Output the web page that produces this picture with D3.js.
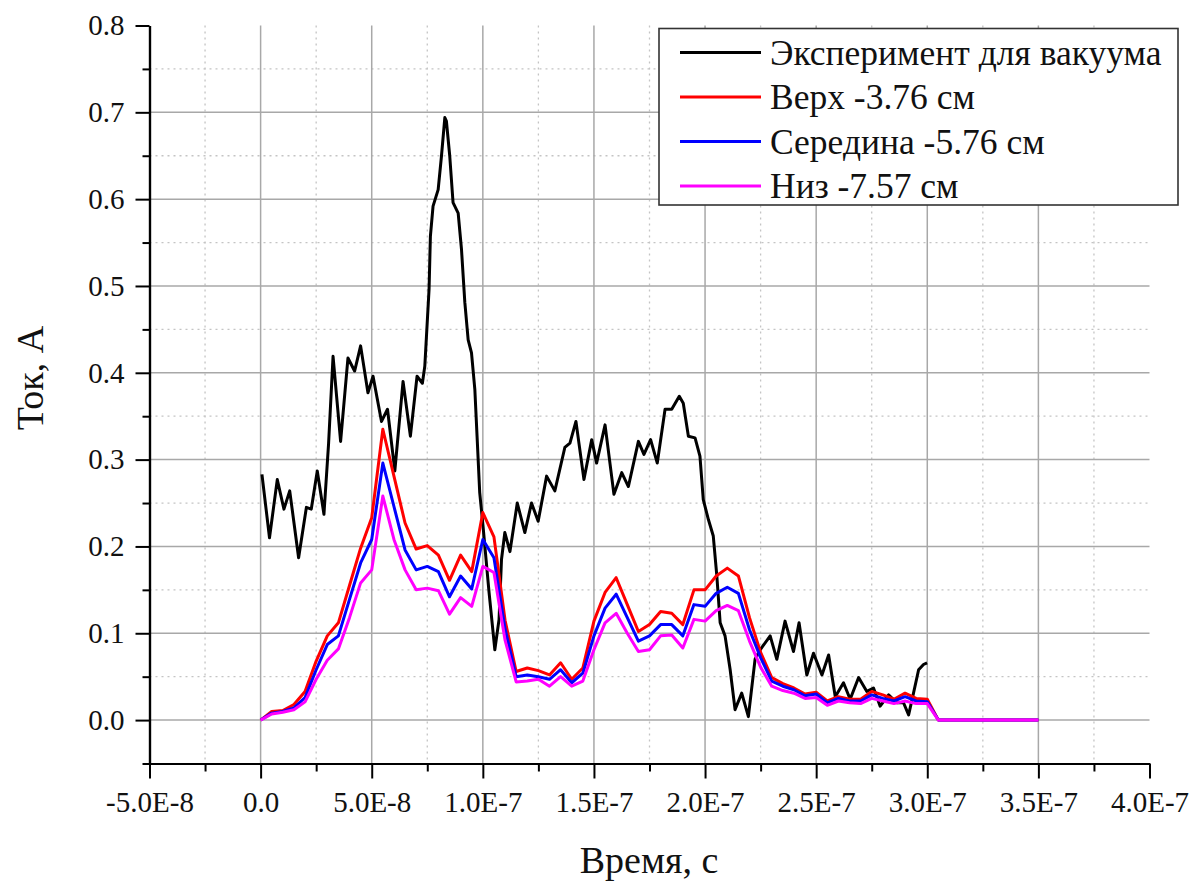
<!DOCTYPE html>
<html>
<head>
<meta charset="utf-8">
<script src="https://cdn.jsdelivr.net/npm/d3@7"></script>
<style>
  body { margin: 0; background: #fff; }
  svg { display: block; font-family: "Liberation Serif", "Times New Roman", serif; }
</style>
</head>
<body>
<svg width="1196" height="881"></svg>
<script>
// Time in ns
const xMajor = [-50, 0, 50, 100, 150, 200, 250, 300, 350, 400];
const xLabels = ["-5.0E-8", "0.0", "5.0E-8", "1.0E-7", "1.5E-7", "2.0E-7", "2.5E-7", "3.0E-7", "3.5E-7", "4.0E-7"];
const xMinor = [-25, 25, 75, 125, 175, 225, 275, 325, 375];
const yMajor = [0, 0.1, 0.2, 0.3, 0.4, 0.5, 0.6, 0.7, 0.8];
const yLabels = ["0.0", "0.1", "0.2", "0.3", "0.4", "0.5", "0.6", "0.7", "0.8"];
const yMinor = [-0.05, 0.05, 0.15, 0.25, 0.35, 0.45, 0.55, 0.65, 0.75];

const seriesNames = ["Эксперимент для вакуума", "Верх -3.76 см", "Середина -5.76 см", "Низ -7.57 см"];
const seriesColors = ["#000000", "#ff0000", "#0000ff", "#ff00ff"];

// experiment (black)
const blackT = [0.6, 4.0, 7.5, 10.5, 13.1, 17.1, 20.6, 22.8, 25.5, 28.5, 30.6, 32.6, 36.0, 39.3, 42.3, 45.0, 48.3, 50.6,
  54.4, 57.1, 60.4, 64.1, 67.4, 70.4, 72.8, 73.9, 75.8, 76.4, 77.6, 79.9, 81.4, 82.9, 83.6, 85.1, 86.6, 88.9, 90.4,
  91.9, 93.4, 94.9, 96.4, 97.4, 98.6, 100.1, 102.8, 105.4, 107.3, 108.4, 109.9, 112.2, 115.5, 118.9, 121.9, 124.9,
  128.7, 132.4, 136.9, 139.2, 141.9, 145.5, 149.0, 151.2, 155.0, 159.0, 162.5, 165.5, 170.0, 172.5, 175.5, 178.5,
  182.0, 185.0, 188.4, 190.2, 192.5, 195.5, 197.7, 199.2, 201.5, 203.7, 205.3, 206.8, 209.0, 211.3, 213.5, 216.5,
  219.5, 222.5, 224.8, 229.3, 232.3, 236.0, 239.8, 242.3, 245.8, 248.8, 252.6, 255.6, 258.6, 262.3, 265.3, 269.1,
  272.8, 275.8, 278.8, 282.6, 286.3, 289.3, 291.6, 293.8, 296.1, 298.3, 299.9];
const blackI = [0.283, 0.210, 0.277, 0.243, 0.264, 0.187, 0.245, 0.243, 0.287, 0.237, 0.319, 0.419, 0.321, 0.417, 0.402, 0.431, 0.377, 0.396,
  0.344, 0.358, 0.287, 0.390, 0.327, 0.396, 0.388, 0.408, 0.496, 0.557, 0.592, 0.611, 0.650, 0.694, 0.690, 0.650, 0.596, 0.584, 0.542,
  0.481, 0.438, 0.423, 0.381, 0.327, 0.262, 0.223, 0.147, 0.081, 0.116, 0.185, 0.216, 0.194, 0.250, 0.216, 0.250, 0.229,
  0.281, 0.264, 0.314, 0.319, 0.344, 0.277, 0.323, 0.296, 0.340, 0.260, 0.285, 0.269, 0.321, 0.306, 0.323, 0.296,
  0.358, 0.358, 0.373, 0.365, 0.327, 0.325, 0.304, 0.254, 0.231, 0.212, 0.166, 0.112, 0.097, 0.058, 0.012, 0.031,
  0.004, 0.070, 0.081, 0.097, 0.070, 0.114, 0.079, 0.112, 0.052, 0.077, 0.052, 0.075, 0.027, 0.043, 0.024, 0.049,
  0.033, 0.037, 0.016, 0.029, 0.020, 0.020, 0.006, 0.031, 0.058, 0.064, 0.066];

// simulations (sampled every 5 ns)
const simT = [0, 5, 10, 15, 20, 25, 30, 35, 40, 45, 50, 55, 60, 65, 70, 75, 80, 85, 90, 95, 100, 105, 110, 115, 120, 125,
  130, 135, 140, 145, 150, 155, 160, 165, 170, 175, 180, 185, 190, 195, 200, 205, 210, 215, 220, 225, 230, 235, 240,
  245, 250, 255, 260, 265, 270, 275, 280, 285, 290, 295, 300, 305, 350];
const redI = [0, 0.010, 0.011, 0.018, 0.033, 0.068, 0.097, 0.112, 0.155, 0.198, 0.233, 0.335, 0.281, 0.227, 0.197, 0.201, 0.190, 0.161, 0.190, 0.171, 0.239, 0.211, 0.115, 0.056, 0.060, 0.057,
  0.052, 0.066, 0.047, 0.060, 0.114, 0.147, 0.164, 0.133, 0.102, 0.110, 0.125, 0.123, 0.110, 0.150, 0.150, 0.166, 0.175, 0.166, 0.118, 0.078, 0.049, 0.042, 0.037,
  0.030, 0.032, 0.022, 0.027, 0.024, 0.024, 0.033, 0.029, 0.024, 0.031, 0.025, 0.024, 0, 0];
const blueI = [0, 0.008, 0.010, 0.014, 0.026, 0.058, 0.087, 0.097, 0.139, 0.181, 0.208, 0.296, 0.246, 0.196, 0.173, 0.177, 0.171, 0.142, 0.166, 0.151, 0.208, 0.187, 0.105, 0.050, 0.052, 0.050,
  0.047, 0.058, 0.043, 0.054, 0.097, 0.129, 0.145, 0.118, 0.091, 0.097, 0.110, 0.110, 0.097, 0.133, 0.131, 0.146, 0.153, 0.146, 0.104, 0.072, 0.045, 0.039, 0.035,
  0.028, 0.030, 0.020, 0.025, 0.022, 0.022, 0.029, 0.025, 0.022, 0.027, 0.022, 0.021, 0, 0];
const magentaI = [0, 0.007, 0.009, 0.012, 0.021, 0.047, 0.069, 0.082, 0.118, 0.158, 0.173, 0.258, 0.208, 0.173, 0.150, 0.152, 0.149, 0.122, 0.141, 0.131, 0.177, 0.170, 0.092, 0.044, 0.045, 0.047,
  0.039, 0.050, 0.039, 0.045, 0.081, 0.112, 0.123, 0.100, 0.079, 0.081, 0.097, 0.098, 0.083, 0.116, 0.114, 0.126, 0.132, 0.126, 0.091, 0.061, 0.039, 0.034, 0.031,
  0.025, 0.026, 0.017, 0.022, 0.020, 0.019, 0.025, 0.022, 0.019, 0.022, 0.019, 0.019, 0, 0];

const svg = d3.select("svg");
const plotLeft = 149.5, plotRight = 1149.5, plotTop = 25.5, plotBottom = 763.5;

const x = d3.scaleLinear().domain([-50, 400]).range([plotLeft, plotRight]);
const y = d3.scaleLinear().domain([-0.05, 0.8]).range([plotBottom, plotTop]);

// grid
const grid = svg.append("g");
grid.selectAll(".vmin").data(xMinor).enter().append("line")
  .attr("x1", d => x(d)).attr("x2", d => x(d)).attr("y1", plotTop).attr("y2", plotBottom)
  .attr("stroke", "#c4c4c4").attr("stroke-width", 1.3).attr("stroke-dasharray", "2,4");
grid.selectAll(".hmin").data(yMinor.filter(d => d > 0)).enter().append("line")
  .attr("x1", plotLeft).attr("x2", plotRight).attr("y1", d => y(d)).attr("y2", d => y(d))
  .attr("stroke", "#c4c4c4").attr("stroke-width", 1.3).attr("stroke-dasharray", "2,4");
grid.selectAll(".vmaj").data(xMajor.slice(1, -1)).enter().append("line")
  .attr("x1", d => x(d)).attr("x2", d => x(d)).attr("y1", plotTop).attr("y2", plotBottom)
  .attr("stroke", "#a8a8a8").attr("stroke-width", 1.5);
grid.selectAll(".hmaj").data(yMajor.slice(0, -1)).enter().append("line")
  .attr("x1", plotLeft).attr("x2", plotRight).attr("y1", d => y(d)).attr("y2", d => y(d))
  .attr("stroke", "#a8a8a8").attr("stroke-width", 1.5);

// series
const line = d3.line().x(d => x(d[0])).y(d => y(d[1]));
const series = [
  d3.zip(blackT, blackI),
  d3.zip(simT, redI),
  d3.zip(simT, blueI),
  d3.zip(simT, magentaI)
];
series.forEach((s, i) => {
  svg.append("path").datum(s)
    .attr("d", line)
    .attr("fill", "none")
    .attr("stroke", seriesColors[i])
    .attr("stroke-width", 3)
    .attr("stroke-linejoin", "round");
});

// axes
function styleAxis(g) {
  g.selectAll("path.domain").attr("stroke", "#000").attr("stroke-width", 2.2);
  g.selectAll(".tick line").attr("stroke", "#000").attr("stroke-width", 2);
  g.selectAll(".tick text").attr("fill", "#111").style("font-size", "29px")
    .style("font-family", "'Liberation Serif', 'Times New Roman', serif");
}

svg.append("g").attr("transform", `translate(0,${plotBottom})`)
  .call(d3.axisBottom(x).tickValues(xMinor).tickSize(8).tickFormat("").tickSizeOuter(0))
  .call(styleAxis);
svg.append("g").attr("transform", `translate(0,${plotBottom})`)
  .call(d3.axisBottom(x).tickValues(xMajor).tickSize(15).tickPadding(13).tickSizeOuter(0)
    .tickFormat((d, i) => xLabels[i]))
  .call(styleAxis);

svg.append("g").attr("transform", `translate(${plotLeft},0)`)
  .call(d3.axisLeft(y).tickValues(yMinor).tickSize(7).tickFormat("").tickSizeOuter(0))
  .call(styleAxis);
svg.append("g").attr("transform", `translate(${plotLeft},0)`)
  .call(d3.axisLeft(y).tickValues(yMajor).tickSize(14).tickPadding(11).tickSizeOuter(0)
    .tickFormat((d, i) => yLabels[i]))
  .call(styleAxis);

// axis titles
svg.append("text")
  .attr("x", 649).attr("y", 873)
  .attr("text-anchor", "middle")
  .style("font-size", "38px").attr("fill", "#111")
  .text("Время, с");
svg.append("text")
  .attr("transform", "translate(43,378) rotate(-90)")
  .attr("text-anchor", "middle")
  .style("font-size", "38px").attr("fill", "#111")
  .text("Ток, А");

// legend
const lg = svg.append("g");
lg.append("rect")
  .attr("x", 659).attr("y", 28.5).attr("width", 519).attr("height", 176.5)
  .attr("fill", "#fff").attr("stroke", "#333").attr("stroke-width", 1.6);
const rowY = [52.5, 97, 141.5, 186];
seriesNames.forEach((name, i) => {
  lg.append("line")
    .attr("x1", 680).attr("x2", 761).attr("y1", rowY[i]).attr("y2", rowY[i])
    .attr("stroke", seriesColors[i]).attr("stroke-width", 3);
  lg.append("text")
    .attr("x", 770).attr("y", rowY[i] + 12)
    .style("font-size", "35.5px").attr("fill", "#111")
    .text(name);
});
</script>
</body>
</html>
